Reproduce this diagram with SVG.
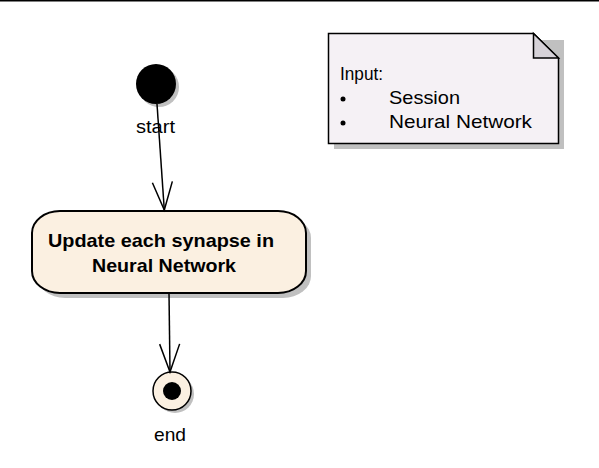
<svg xmlns="http://www.w3.org/2000/svg" width="599" height="468" viewBox="0 0 599 468">
<defs>
<style>
.lbl{font-family:"Liberation Sans",Arial,sans-serif;font-size:19px;fill:#000}
.bold{font-weight:bold}
.shadow{fill:#c0c0c0}
.edge{stroke:#000;stroke-width:1.5;fill:none}
</style>
<marker id="open" markerWidth="32" markerHeight="24" refX="29" refY="12" orient="auto" markerUnits="userSpaceOnUse" viewBox="0 0 32 24">
<path d="M1,2 L29,12 L1,22" fill="none" stroke="#000" stroke-width="1.5"/>
</marker>
</defs>
<rect x="0" y="0" width="599" height="1.5" fill="#000"/>
<g id="note">
<path class="shadow" d="M334,40 H564 V149 H334 Z"/>
<path d="M328.5,33.5 H533.5 L558.5,58 V143.5 H328.5 Z" fill="#f5f1f5" stroke="#000" stroke-width="1.5"/>
<path d="M533.5,33.5 V58 H558.5 Z" fill="#d6d2d8" stroke="#000" stroke-width="1.5"/>
<text class="lbl" x="340" y="80" textLength="43" lengthAdjust="spacingAndGlyphs">Input:</text>
<circle cx="343" cy="99" r="2.5" fill="#000"/>
<text class="lbl" x="389" y="104" textLength="71" lengthAdjust="spacingAndGlyphs">Session</text>
<circle cx="343" cy="123" r="2.5" fill="#000"/>
<text class="lbl" x="389" y="128" textLength="143" lengthAdjust="spacingAndGlyphs">Neural Network</text>
</g>
<g id="start">
<circle class="shadow" cx="159" cy="87" r="20"/>
<circle cx="156" cy="84" r="20" fill="#000"/>
<text class="lbl" x="136" y="133" textLength="39" lengthAdjust="spacingAndGlyphs">start</text>
</g>
<g id="activity">
<rect class="shadow" x="37" y="216" width="274" height="82" rx="28" ry="22"/>
<rect x="32" y="211" width="274" height="82" rx="28" ry="22" fill="#fbf0e1" stroke="#000" stroke-width="2"/>
<text class="lbl bold" x="48" y="247" textLength="226" lengthAdjust="spacingAndGlyphs">Update each synapse in</text>
<text class="lbl bold" x="92" y="272" textLength="144" lengthAdjust="spacingAndGlyphs">Neural Network</text>
</g>
<g id="end">
<circle class="shadow" cx="175" cy="394" r="19"/>
<circle cx="172" cy="391" r="19" fill="#fbf0e1" stroke="#000" stroke-width="1.5"/>
<circle cx="172" cy="391" r="9" fill="#000"/>
<text class="lbl" x="154" y="441" textLength="32" lengthAdjust="spacingAndGlyphs">end</text>
</g>
<g id="connectors">
<path class="edge" d="M157,104 L164.3,210" marker-end="url(#open)"/>
<path class="edge" d="M169,293 L170,372" marker-end="url(#open)"/>
</g>
</svg>
